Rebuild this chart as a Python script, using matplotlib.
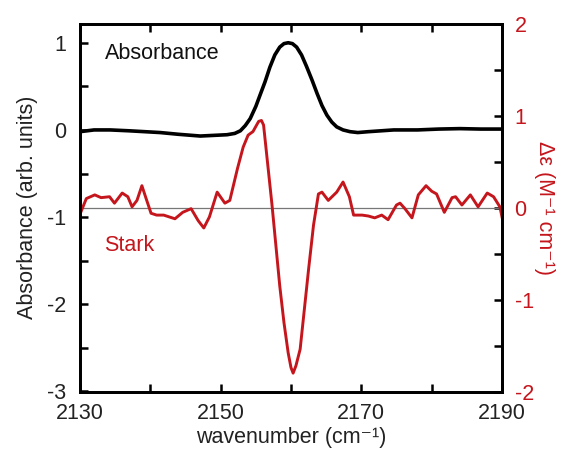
import numpy as np
import matplotlib
matplotlib.use("Agg")
import matplotlib.pyplot as plt

plt.rcParams['font.family'] = ['Liberation Sans', 'DejaVu Sans']
plt.rcParams['axes.unicode_minus'] = False

# absorbance spectrum (left axis, normalised)
wn_abs = [2130.0, 2132.0, 2134.3, 2137.0, 2141.4, 2144.0, 2147.1, 2150.9, 2152.0, 2152.8,
          2153.5, 2154.2, 2155.0, 2155.6, 2156.3, 2157.0, 2157.7, 2158.4, 2159.0, 2159.6,
          2160.2, 2160.8, 2161.5, 2162.2, 2163.0, 2163.7, 2164.4, 2165.1, 2165.8, 2166.5,
          2167.4, 2168.4, 2169.5, 2171.0, 2174.6, 2178.0, 2181.0, 2184.0, 2187.0, 2190.0]
absorb = [-0.02, 0.0, 0.0, -0.01, -0.03, -0.05, -0.07, -0.055, -0.04, -0.01,
          0.05, 0.13, 0.27, 0.40, 0.55, 0.72, 0.86, 0.95, 0.99, 1.0,
          0.99, 0.95, 0.86, 0.73, 0.57, 0.42, 0.28, 0.17, 0.09, 0.035,
          0.0, -0.02, -0.03, -0.02, 0.0, 0.0, 0.01, 0.015, 0.01, 0.01]

# Stark spectrum (right axis)
wn_stark = [2130.0, 2130.9, 2132.1, 2133.0, 2134.2, 2134.9, 2136.0, 2136.8, 2137.4, 2138.1,
            2138.8, 2139.4, 2140.1, 2140.9, 2141.9, 2143.5, 2144.6, 2145.8, 2146.8, 2147.6,
            2148.4, 2149.5, 2150.6, 2151.3, 2152.4, 2153.2, 2153.9, 2154.6, 2155.4, 2155.8,
            2156.1, 2157.3, 2158.4, 2159.0, 2159.6, 2160.0, 2160.3, 2160.7, 2161.3, 2162.5,
            2163.2, 2163.9, 2164.4, 2165.3, 2166.5, 2167.4, 2168.3, 2168.9, 2170.1, 2171.0,
            2171.9, 2172.9, 2173.8, 2175.0, 2175.5, 2176.2, 2177.2, 2178.1, 2179.2, 2180.0,
            2180.7, 2181.8, 2182.9, 2183.4, 2184.3, 2185.5, 2186.6, 2187.9, 2188.8, 2189.7,
            2190.0]
stark = [-0.07, 0.10, 0.14, 0.11, 0.12, 0.05, 0.16, 0.12, 0.01, 0.08,
         0.24, 0.10, -0.06, -0.08, -0.08, -0.12, -0.05, -0.01, -0.14, -0.22,
         -0.10, 0.17, 0.05, 0.08, 0.43, 0.66, 0.79, 0.83, 0.94, 0.95,
         0.90, 0.03, -0.85, -1.25, -1.58, -1.74, -1.80, -1.72, -1.54, -0.67,
         -0.19, 0.15, 0.17, 0.08, 0.17, 0.28, 0.12, -0.08, -0.08, -0.09,
         -0.11, -0.08, -0.13, 0.03, 0.05, -0.01, -0.11, 0.14, 0.24, 0.18,
         0.15, -0.05, 0.11, 0.12, 0.03, 0.14, 0.01, 0.16, 0.12, 0.01,
         -0.10]

red = '#c4161c'
fs = 15.5

fig = plt.figure(figsize=(5.66, 4.49), dpi=100)
ax1 = fig.add_axes([80/566, 57.5/449, 422/566, 367.5/449])
ax2 = ax1.twinx()

ax1.plot(wn_abs, absorb, color='black', lw=2.6, solid_joinstyle='round')
ax2.axhline(0, color='#777777', lw=0.9)
ax2.plot(wn_stark, stark, color=red, lw=2.1, solid_joinstyle='round')

ax1.set_xlim(2130, 2190)
ax1.set_ylim(-3, 1.215)
ax2.set_ylim(-2, 2)

ax1.set_xticks([2130, 2150, 2170, 2190])
ax1.set_xticks([2140, 2160, 2180], minor=True)
ax1.set_yticks([1, 0, -1, -2, -3])
ax1.set_yticks(np.arange(-2.5, 1.0, 1.0), minor=True)
ax2.set_yticks([2, 1, 0, -1, -2])
ax2.set_yticks(np.arange(-1.5, 2.0, 1.0), minor=True)

for ax in (ax1, ax2):
    for s in ax.spines.values():
        s.set_linewidth(2.0)
ax1.tick_params(axis='x', which='both', direction='in', top=True, bottom=True,
                length=6, width=1.8, labelsize=fs, pad=8, labelcolor='#222222')
ax1.tick_params(axis='y', which='both', direction='in', left=True, right=False,
                length=6, width=1.8, labelsize=fs, pad=10, labelcolor='#222222')
ax2.tick_params(axis='y', which='both', direction='in', right=True,
                length=6, width=1.8, labelsize=fs, pad=9, labelcolor=red)

ax1.set_xlabel('wavenumber (cm⁻¹)', fontsize=fs, color='#222222', va='center')
ax1.xaxis.set_label_coords(0.5, -0.124)
ax1.set_ylabel('Absorbance (arb. units)', fontsize=fs, color='#222222', va='center')
ax1.yaxis.set_label_coords(-0.125, 0.5)
ax2.set_ylabel('Δε (M⁻¹ cm⁻¹)', fontsize=fs, color=red, rotation=270, va='center')
ax2.yaxis.set_label_coords(1.1, 0.5)

ax1.text(2133.5, 0.88, 'Absorbance', fontsize=fs, color='#111111', va='center')
ax1.text(2133.4, -1.33, 'Stark', fontsize=fs, color=red, va='center')

fig.savefig('out.png', dpi=100)
